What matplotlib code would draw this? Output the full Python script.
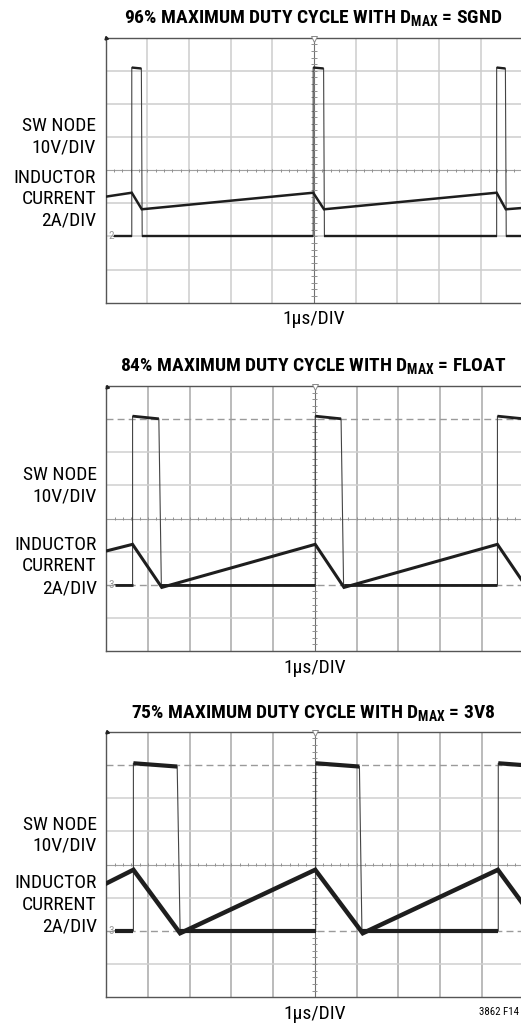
import numpy as np
import matplotlib.pyplot as plt
from matplotlib import font_manager
from matplotlib.collections import LineCollection

# narrow sans for the labels, first one found wins
narrow_choices = ['Roboto Condensed', 'Arial Narrow', 'Liberation Sans Narrow',
                  'Archivo Narrow', 'PT Sans Narrow', 'Fira Sans Condensed',
                  'IBM Plex Sans Condensed', 'Barlow Semi Condensed',
                  'Encode Sans Condensed', 'Open Sans Condensed']
installed = {f.name for f in font_manager.fontManager.ttflist}
narrow = next((n for n in narrow_choices if n in installed), 'DejaVu Sans')

plt.rcParams['font.family'] = [narrow, 'DejaVu Sans']
plt.rcParams['mathtext.fontset'] = 'custom'
plt.rcParams['mathtext.rm'] = narrow
plt.rcParams['mathtext.bf'] = narrow + ':bold'

# scope captures, all values in screen divisions (10 x 8 grid)
titles = [
    r"96% MAXIMUM DUTY CYCLE WITH D$_\mathbf{MAX}$ = SGND",
    r"84% MAXIMUM DUTY CYCLE WITH D$_\mathbf{MAX}$ = FLOAT",
    r"75% MAXIMUM DUTY CYCLE WITH D$_\mathbf{MAX}$ = 3V8",
]
channel_marks = ["2", "3", "3"]

# SW node: edge times and levels
sw_rise = [[0.63, 4.98, 9.38], [0.63, 5.01, 9.38], [0.65, 5.02, 9.40]]
sw_fall_top = [[0.86, 5.23, 9.59], [1.26, 5.63], [1.70, 6.07]]
sw_fall_bot = [[0.88, 5.25, 9.61], [1.32, 5.69], [1.77, 6.13]]
sw_high_start = [7.10, 7.09, 7.05]
sw_high_end = [7.07, 7.01, 6.95]
sw_low = [2.0, 2.0, 2.0]

# inductor current: corner points of the triangle wave
il_t = [
    [0.0, 0.63, 0.87, 4.98, 5.24, 9.38, 9.60, 10.0],
    [0.0, 0.63, 1.33, 5.01, 5.70, 9.38, 10.0],
    [0.0, 0.65, 1.77, 5.01, 6.15, 9.39, 10.0],
]
il_y = [
    [3.20, 3.32, 2.82, 3.32, 2.82, 3.32, 2.82, 2.86],
    [3.02, 3.22, 1.92, 3.22, 1.92, 3.22, 2.07],
    [3.43, 3.84, 1.93, 3.84, 1.93, 3.84, 2.80],
]

left_labels = ["SW NODE", "10V/DIV", "INDUCTOR", "CURRENT", "2A/DIV"]
label_y = [
    [5.34, 4.68, 3.76, 3.12, 2.48],
    [5.30, 4.66, 3.21, 2.56, 1.90],
    [5.19, 4.56, 3.43, 2.78, 2.13],
]

W, H = 521, 1026
# panel boxes in pixels: left, top, bottom
boxes = [(105.5, 37.7, 302.7), (106.3, 386.0, 651.0), (106.3, 731.7, 997.3)]
title_y = [19, 366.5, 714]
div_w = 41.7
trace_lw = [1.8, 2.2, 3.2]
sw_lw = [1.7, 2.0, 3.0]


def sw_trace(k):
    rise, ft, fb = sw_rise[k], sw_fall_top[k], sw_fall_bot[k]
    hs, he, lo = sw_high_start[k], sw_high_end[k], sw_low[k]
    width = ft[0] - rise[0]
    xs, ys = [0.2], [lo]
    lows, highs = [], []
    x0 = 0.2
    for i, r in enumerate(rise):
        lows.append([(x0, lo), (r, lo)])
        xs += [r, r]
        ys += [lo, hs]
        if i < len(ft):
            xs += [ft[i], fb[i]]
            ys += [he, lo]
            highs.append([(r, hs), (ft[i], he)])
            x0 = fb[i]
        else:
            x1 = 10.0
            y1 = hs + (he - hs) * min(1, (x1 - r) / width)
            xs.append(x1)
            ys.append(y1)
            highs.append([(r, hs), (x1, y1)])
            x0 = None
    if x0 is not None:
        xs.append(10.0)
        ys.append(lo)
        lows.append([(x0, lo), (10.0, lo)])
    return xs, ys, lows + highs


def draw_grid(ax, k):
    if k == 0:
        vcol, hcol = '#cdcdcd', '#cdcdcd'
    else:
        vcol, hcol = '#a8a8a8', '#d0d0d0'
    for x in range(1, 10):
        if x != 5:
            ax.axvline(x, color=vcol, lw=1.1, zorder=1)
    for y in range(1, 8):
        if y == 4:
            continue
        if k > 0 and y in (2, 7):
            ax.axhline(y, color='#9a9a9a', lw=1.0, ls=(0, (5, 3)), zorder=1)
        else:
            ax.axhline(y, color=hcol, lw=1.1, zorder=1)
    # center crosshair with minor ticks
    ax.axvline(5, color='#707070', lw=0.8, zorder=1)
    ax.axhline(4, color='#a0a0a0', lw=0.8, zorder=1)
    ty = np.arange(0.2, 8, 0.2)
    tx = np.arange(0.2, 10, 0.2)
    segs = [[(4.94, y), (5.06, y)] for y in ty]
    segs += [[(x, 3.95), (x, 4.05)] for x in tx]
    ax.add_collection(LineCollection(segs, colors='#909090', lw=0.7, zorder=1))
    ax.plot([5], [7.97], marker='v', ms=4, mfc='white', mec='#888888', mew=0.7,
            clip_on=False, zorder=3)
    ax.plot([0.02], [7.98], marker=(3, 0, 135), ms=3, color='#222222',
            clip_on=False, zorder=3)


def draw_panel(fig, k):
    left, top, bottom = boxes[k]
    ax = fig.add_axes([left / W, 1 - bottom / H, 10 * div_w / W, (bottom - top) / H])
    ax.set_xlim(0, 10)
    ax.set_ylim(0, 8)
    ax.set_xticks([])
    ax.set_yticks([])
    for s in ax.spines.values():
        s.set_color('#555555')
        s.set_linewidth(1.0)
    draw_grid(ax, k)

    xs, ys, flats = sw_trace(k)
    ax.plot(xs, ys, color='#444444', lw=0.8, zorder=4)
    ax.add_collection(LineCollection(flats, colors='#1e1e1e', lw=sw_lw[k], zorder=5))
    ax.plot(il_t[k], il_y[k], color='#1e1e1e', lw=trace_lw[k],
            solid_joinstyle='miter', zorder=6)
    ax.text(0.06, sw_low[k], channel_marks[k], color='#999999', fontsize=8,
            ha='left', va='center', zorder=5)

    for txt, y in zip(left_labels, label_y[k]):
        ax.text(-0.23, y, txt, ha='right', va='center', fontsize=14,
                clip_on=False)
    ax.text(5, -0.5, "1\u00b5s/DIV", ha='center', va='center', fontsize=14,
            clip_on=False)
    fig.text(313.5 / W, 1 - title_y[k] / H, titles[k], ha='center', va='center',
             fontsize=14, fontweight='bold')
    return ax


def main():
    fig = plt.figure(figsize=(W / 100, H / 100), dpi=100)
    for k in range(3):
        draw_panel(fig, k)
    fig.text(519 / W, 1 - 1011.7 / H, "3862 F14", ha='right', va='center',
             fontsize=7.8)
    fig.savefig("out.png", dpi=100)


if __name__ == "__main__":
    main()
